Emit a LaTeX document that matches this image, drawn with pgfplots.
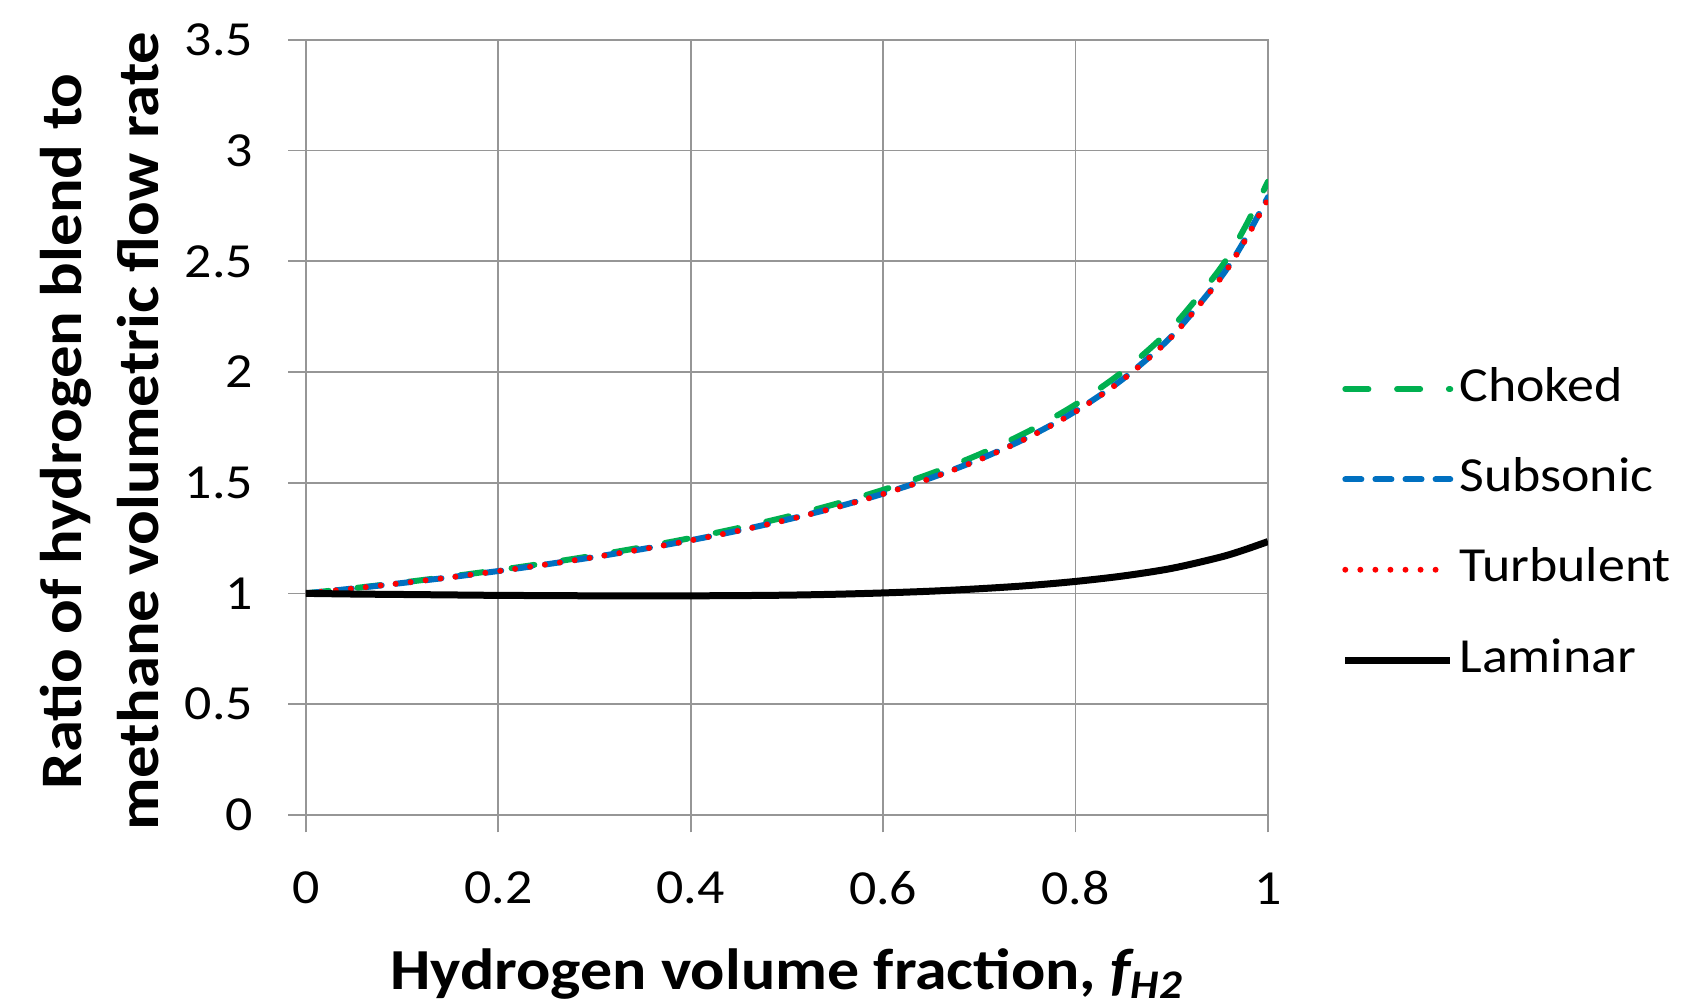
\documentclass[border=0pt]{standalone}
\usepackage{fontspec}
\setmainfont{Carlito}[FakeStretch=1.1]
\usepackage{pgfplots}
\pgfplotsset{compat=1.18}

\definecolor{choked}{RGB}{0,176,80}
\definecolor{subsonic}{RGB}{0,112,192}
\definecolor{turb}{RGB}{255,0,0}
\definecolor{gridgray}{RGB}{150,150,150}

\begin{document}
\begin{tikzpicture}
\path[use as bounding box] (-87.4pt,-54.9pt) rectangle (395.2pt,232.8pt);
\begin{axis}[
    at={(0,0)}, anchor=south west,
    scale only axis,
    width=274.9pt, height=221.4pt,
    xmin=0, xmax=1, ymin=0, ymax=3.5,
    xtick={0,0.2,0.4,0.6,0.8,1},
    ytick={0,0.5,1,1.5,2,2.5,3,3.5},
    grid=major,
    major grid style={gridgray, line width=0.5pt},
    axis line style={gridgray, line width=0.5pt},
    tick style={gridgray, line width=0.5pt},
    tick align=outside, major tick length=5pt,
    xtick pos=lower, ytick pos=left,
    /pgf/number format/assume math mode=true,
    ticklabel style={font=\fontsize{14}{16}\selectfont},
    xticklabel style={anchor=center, yshift=-16pt},
    yticklabel style={anchor=east, inner sep=0pt, xshift=-9.9pt},
    xlabel={Hydrogen volume fraction, {\itshape f\textsubscript{H2}}},
    xlabel style={font=\bfseries\fontsize{16.6}{20}\selectfont,
        at={(axis description cs:0.5,-0.206)}, anchor=center},
    ylabel={Ratio of hydrogen blend to\\methane volumetric flow rate},
    ylabel style={font=\bfseries\fontsize{16.8}{22}\selectfont, align=center,
        at={(axis description cs:-0.2146,0.495)}, anchor=center},
    legend style={draw=none, fill=none, inner sep=0pt,
        at={(axis description cs:1.076,0.3745)}, anchor=west,
        font=\fontsize{14}{16}\selectfont,
        row sep=9.6pt, cells={anchor=west},
        nodes={inner sep=1.6pt, text height=10pt, text depth=3pt}},
    legend image code/.code={\draw[#1] (0pt,0pt) -- (30pt,0pt);},
]
\addplot[choked, line width=1.7pt, line cap=round, dash pattern=on 6.6pt off 8.2pt, smooth] coordinates {
    (0,1.000) (0.05,1.0236) (0.1,1.0489) (0.15,1.0760) (0.2,1.1053)
    (0.25,1.1369) (0.3,1.1713) (0.35,1.2088) (0.4,1.2500) (0.45,1.2956)
    (0.5,1.3462) (0.55,1.4032) (0.6,1.4677) (0.65,1.5418) (0.7,1.6280)
    (0.75,1.7299) (0.8,1.8532) (0.85,2.0050) (0.9,2.2000) (0.95,2.4650)
    (0.975,2.6450) (1,2.8600)
};
\addlegendentry{Choked}
\addplot[subsonic, line width=1.7pt, line cap=round, dash pattern=on 4.6pt off 4.0pt, smooth] coordinates {
    (0,1.000) (0.05,1.0226) (0.1,1.0468) (0.15,1.0728) (0.2,1.1009)
    (0.25,1.1312) (0.3,1.1643) (0.35,1.2004) (0.4,1.2401) (0.45,1.2840)
    (0.5,1.3329) (0.55,1.3879) (0.6,1.4503) (0.65,1.5220) (0.7,1.6055)
    (0.75,1.7040) (0.8,1.8230) (0.85,1.9710) (0.9,2.1620) (0.95,2.4220)
    (0.975,2.5900) (1,2.7900)
};
\addlegendentry{Subsonic}
\addplot[turb, line width=1.7pt, line cap=round, dash pattern=on 0pt off 4.3pt, smooth] coordinates {
    (0,1.000) (0.05,1.0225) (0.1,1.0466) (0.15,1.0725) (0.2,1.1005)
    (0.25,1.1307) (0.3,1.1637) (0.35,1.1997) (0.4,1.2393) (0.45,1.2831)
    (0.5,1.3318) (0.55,1.3866) (0.6,1.4488) (0.65,1.5203) (0.7,1.6036)
    (0.75,1.7018) (0.8,1.8205) (0.85,1.9685) (0.9,2.1590) (0.95,2.4180)
    (0.975,2.5850) (1,2.7800)
};
\addlegendentry{Turbulent}
\addplot[black, line width=2pt, smooth] coordinates {
    (0,1.000) (0.05,0.997) (0.1,0.995) (0.15,0.993) (0.2,0.991)
    (0.25,0.990) (0.3,0.989) (0.35,0.989) (0.4,0.989) (0.45,0.990)
    (0.5,0.992) (0.55,0.996) (0.6,1.002) (0.65,1.010) (0.7,1.021)
    (0.75,1.035) (0.8,1.054) (0.85,1.079) (0.9,1.113) (0.95,1.163)
    (0.975,1.196) (1,1.234)
};
\addlegendentry{Laminar}
\end{axis}
\end{tikzpicture}
\end{document}
